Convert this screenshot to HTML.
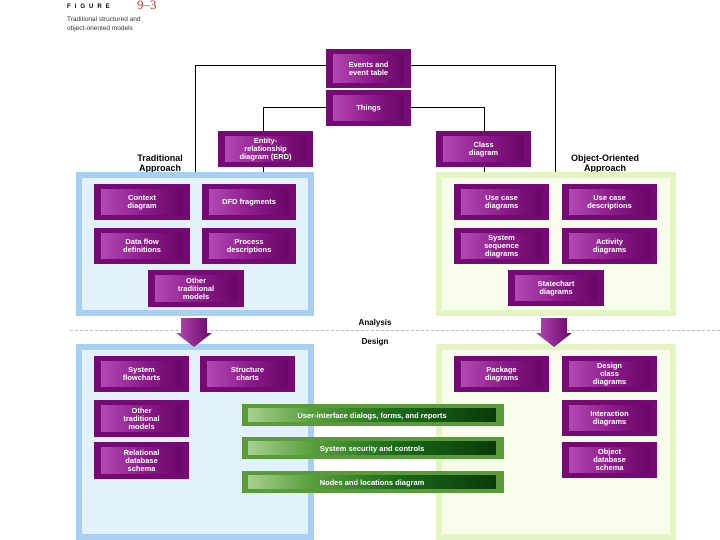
<!DOCTYPE html>
<html><head><style>
body{margin:0;width:720px;height:540px;background:#fff;position:relative;overflow:hidden;font-family:"Liberation Sans",sans-serif}
.a{position:absolute}
.p{position:absolute;background:#760a74;box-sizing:border-box}
.p>div{position:absolute;left:7px;right:7px;top:5px;bottom:5px;background:linear-gradient(90deg,#b548b5,#8a1a88 55%,#690667);display:flex;align-items:center;justify-content:center;text-align:center;color:#fff;font-size:7.5px;font-weight:bold;line-height:8px}
.g{position:absolute;left:242px;width:262px;height:22px;background:#5a9a3a}
.g>div{position:absolute;left:6px;right:8px;top:4px;bottom:4px;background:linear-gradient(90deg,#a8d090,#5aa040 25%,#1a6a1a 60%,#0a3a0a);color:#fff;font-size:7.5px;font-weight:bold;display:flex;align-items:center;justify-content:center}
.ln{position:absolute;background:#000}
.lb{position:absolute;font-size:9px;font-weight:bold;text-align:center;line-height:10px}
</style></head><body>
<div class="a" style="left:67px;top:4px;font-size:6px;font-weight:bold;letter-spacing:4px">FIGURE</div>
<div class="a" style="left:137px;top:-3px;font-family:'Liberation Serif',serif;color:#c0392b;font-size:13px">9–3</div>
<div class="a" style="left:67px;top:15px;font-size:6.5px;line-height:9px;color:#333">Traditional structured and<br>object-oriented models</div>

<div class="ln" style="left:195px;top:65px;width:131px;height:1px"></div>
<div class="ln" style="left:195px;top:65px;width:1px;height:108px"></div>
<div class="ln" style="left:410px;top:65px;width:145px;height:1px"></div>
<div class="ln" style="left:555px;top:65px;width:1px;height:108px"></div>
<div class="ln" style="left:263px;top:107px;width:63px;height:1px"></div>
<div class="ln" style="left:263px;top:107px;width:1px;height:66px"></div>
<div class="ln" style="left:410px;top:107px;width:75px;height:1px"></div>
<div class="ln" style="left:484px;top:107px;width:1px;height:66px"></div>

<div class="p" style="left:326px;top:49px;width:85px;height:39px"><div>Events and<br>event table</div></div>
<div class="p" style="left:326px;top:90px;width:85px;height:36px"><div>Things</div></div>
<div class="p" style="left:218px;top:131px;width:95px;height:36px"><div>Entity-<br>relationship<br>diagram (ERD)</div></div>
<div class="p" style="left:436px;top:131px;width:95px;height:36px"><div>Class<br>diagram</div></div>

<div class="lb" style="left:120px;top:153px;width:80px">Traditional<br>Approach</div>
<div class="lb" style="left:560px;top:153px;width:90px">Object-Oriented<br>Approach</div>

<div class="a" style="left:76px;top:172px;width:238px;height:144px;box-sizing:border-box;border:6px solid #a8cff2;background:#e2f2fc"></div>
<div class="a" style="left:436px;top:172px;width:240px;height:144px;box-sizing:border-box;border:6px solid #e4f4c2;background:#f8fcea"></div>
<div class="a" style="left:76px;top:344px;width:238px;height:196px;box-sizing:border-box;border:6px solid #a8cff2;background:#e2f2fc"></div>
<div class="a" style="left:436px;top:344px;width:240px;height:196px;box-sizing:border-box;border:6px solid #e4f4c2;background:#f8fcea"></div>

<div class="a" style="left:70px;top:330px;width:650px;border-top:1px dashed #bbb"></div>
<div class="lb" style="left:340px;top:318px;width:70px;font-size:8px">Analysis</div>
<div class="lb" style="left:340px;top:337px;width:70px;font-size:8px">Design</div>

<svg class="a" style="left:176px;top:318px" width="36" height="30"><defs><linearGradient id="ag" x1="0" x2="1"><stop offset="0" stop-color="#b548b5"/><stop offset="1" stop-color="#6a0868"/></linearGradient></defs><path d="M5 0H31V15H36L18 29L0 15H5Z" fill="url(#ag)"/></svg>
<svg class="a" style="left:536px;top:318px" width="36" height="30"><path d="M5 0H31V15H36L18 29L0 15H5Z" fill="url(#ag)"/></svg>

<div class="p" style="left:94px;top:184px;width:96px;height:36px"><div>Context<br>diagram</div></div>
<div class="p" style="left:202px;top:184px;width:94px;height:36px"><div>DFD fragments</div></div>
<div class="p" style="left:94px;top:228px;width:96px;height:36px"><div>Data flow<br>definitions</div></div>
<div class="p" style="left:202px;top:228px;width:94px;height:36px"><div>Process<br>descriptions</div></div>
<div class="p" style="left:148px;top:270px;width:96px;height:37px"><div>Other<br>traditional<br>models</div></div>

<div class="p" style="left:454px;top:184px;width:95px;height:36px"><div>Use case<br>diagrams</div></div>
<div class="p" style="left:562px;top:184px;width:95px;height:36px"><div>Use case<br>descriptions</div></div>
<div class="p" style="left:454px;top:228px;width:95px;height:36px"><div>System<br>sequence<br>diagrams</div></div>
<div class="p" style="left:562px;top:228px;width:95px;height:36px"><div>Activity<br>diagrams</div></div>
<div class="p" style="left:508px;top:270px;width:96px;height:36px"><div>Statechart<br>diagrams</div></div>

<div class="p" style="left:94px;top:356px;width:95px;height:36px"><div>System<br>flowcharts</div></div>
<div class="p" style="left:200px;top:356px;width:95px;height:36px"><div>Structure<br>charts</div></div>
<div class="p" style="left:94px;top:400px;width:95px;height:37px"><div>Other<br>traditional<br>models</div></div>
<div class="p" style="left:94px;top:442px;width:95px;height:37px"><div>Relational<br>database<br>schema</div></div>

<div class="p" style="left:454px;top:356px;width:95px;height:36px"><div>Package<br>diagrams</div></div>
<div class="p" style="left:562px;top:356px;width:95px;height:36px"><div>Design<br>class<br>diagrams</div></div>
<div class="p" style="left:562px;top:400px;width:95px;height:36px"><div>Interaction<br>diagrams</div></div>
<div class="p" style="left:562px;top:442px;width:95px;height:36px"><div>Object<br>database<br>schema</div></div>

<div class="g" style="top:404px"><div>User-interface dialogs, forms, and reports</div></div>
<div class="g" style="top:437px"><div>System security and controls</div></div>
<div class="g" style="top:471px"><div>Nodes and locations diagram</div></div>
</body></html>
